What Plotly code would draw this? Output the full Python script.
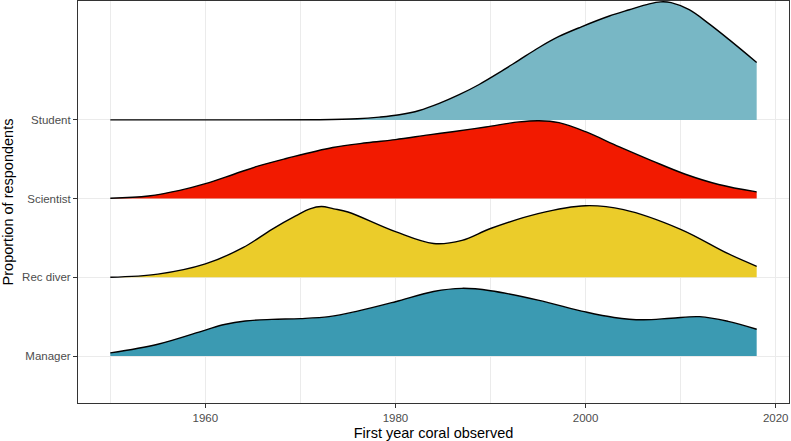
import plotly.graph_objects as go

# Categories (bottom to top) and colours
groups = ["Manager", "Rec diver", "Scientist", "Student"]
colors = {"Manager": "#3B9AB2", "Rec diver": "#EBCC2A", "Scientist": "#F21A00", "Student": "#78B7C5"}

# Scaled density ridges (height in units of row spacing)
manager_years = [1950, 1955, 1960, 1962, 1964.2, 1967, 1970, 1973, 1976, 1980, 1984, 1987, 1990, 1995, 2000, 2003, 2006, 2009, 2012, 2015, 2018]
manager_dens = [0.04, 0.15, 0.33, 0.40, 0.445, 0.465, 0.475, 0.50, 0.57, 0.69, 0.82, 0.86, 0.83, 0.71, 0.56, 0.49, 0.46, 0.48, 0.50, 0.44, 0.34]

recdiver_years = [1950, 1955, 1960, 1964, 1967, 1969.5, 1971, 1972.2, 1973.5, 1975, 1980, 1984, 1987, 1990, 1995, 2000, 2004, 2010, 2015, 2018]
recdiver_dens = [0.0, 0.04, 0.17, 0.38, 0.61, 0.78, 0.87, 0.90, 0.87, 0.83, 0.58, 0.43, 0.47, 0.62, 0.81, 0.91, 0.86, 0.61, 0.30, 0.14]

scientist_years = [1950, 1954, 1957.3, 1960, 1963, 1965.7, 1968.5, 1973.4, 1977, 1980, 1983.5, 1986, 1989.5, 1993, 1995.1, 1997.2, 2000, 2003.5, 2007, 2010.5, 2014, 2018]
scientist_dens = [0.004, 0.034, 0.105, 0.19, 0.31, 0.42, 0.51, 0.65, 0.71, 0.75, 0.81, 0.85, 0.91, 0.975, 0.99, 0.965, 0.85, 0.66, 0.48, 0.31, 0.18, 0.085]

student_years = [1950, 1965, 1972, 1976, 1978.3, 1980.4, 1982.5, 1984.6, 1986.7, 1988.8, 1990.9, 1993, 1995.1, 1997.2, 1999.5, 2002.5, 2004.6, 2006.7, 2007.9, 2009, 2010.9, 2013, 2015.1, 2018]
student_dens = [0.0, 0.0, 0.003, 0.015, 0.036, 0.066, 0.12, 0.21, 0.32, 0.45, 0.60, 0.76, 0.92, 1.06, 1.18, 1.32, 1.40, 1.475, 1.50, 1.49, 1.40, 1.22, 1.02, 0.73]

series = {
    "Manager": (manager_years, manager_dens),
    "Rec diver": (recdiver_years, recdiver_dens),
    "Scientist": (scientist_years, scientist_dens),
    "Student": (student_years, student_dens),
}

x_ticks = [1960, 1980, 2000, 2020]
x_minor = [1950, 1970, 1990, 2010]

fig = go.Figure()
# draw from top row to bottom row
for i in reversed(range(len(groups))):
    g = groups[i]
    base = i + 1
    xs, ds = series[g]
    ys = [base + d for d in ds]
    fig.add_trace(go.Scatter(x=[xs[0], xs[-1]], y=[base, base], mode="lines",
                             line=dict(width=0, color="rgba(0,0,0,0)"), hoverinfo="skip", showlegend=False))
    fig.add_trace(go.Scatter(x=xs, y=ys, mode="lines", fill="tonexty", fillcolor=colors[g],
                             line=dict(color="rgba(0,0,0,0)", width=0, shape="spline", smoothing=1.0),
                             showlegend=False, hoverinfo="skip"))
    fig.add_trace(go.Scatter(x=xs, y=ys, mode="lines",
                             line=dict(color="black", width=1.4, shape="spline", smoothing=1.0),
                             showlegend=False, name=g))

fig.update_layout(
    width=791, height=441,
    margin=dict(l=78, r=2, t=1, b=38),
    paper_bgcolor="white", plot_bgcolor="white",
    font=dict(family="Liberation Sans, Arial, sans-serif"),
    xaxis=dict(
        range=[1946.6, 2021.4], tickvals=x_ticks, ticktext=[str(v) for v in x_ticks],
        showgrid=True, gridcolor="#EBEBEB", gridwidth=1,
        minor=dict(tickvals=x_minor, showgrid=True, gridcolor="#EBEBEB", gridwidth=0.6, ticks=""),
        showline=True, linecolor="#333333", linewidth=1, mirror=True,
        ticks="outside", ticklen=4, tickcolor="#333333", tickwidth=1,
        tickfont=dict(size=11.5, color="#4D4D4D"), zeroline=False, automargin=False,
        title=dict(text="First year coral observed", font=dict(size=14.5, color="black")),
    ),
    yaxis=dict(
        range=[0.403, 5.511], tickvals=[1, 2, 3, 4], ticktext=groups,
        showgrid=True, gridcolor="#EBEBEB", gridwidth=1,
        showline=True, linecolor="#333333", linewidth=1, mirror=True,
        ticks="outside", ticklen=4, tickcolor="#333333", tickwidth=1,
        tickfont=dict(size=11.5, color="#4D4D4D"), zeroline=False, automargin=False,
        title=dict(text="Proportion of respondents", font=dict(size=14.5, color="black")),
    ),
)

fig.write_html("out.html", config={"displayModeBar": False},
               post_script="document.body.style.margin='0px';")
